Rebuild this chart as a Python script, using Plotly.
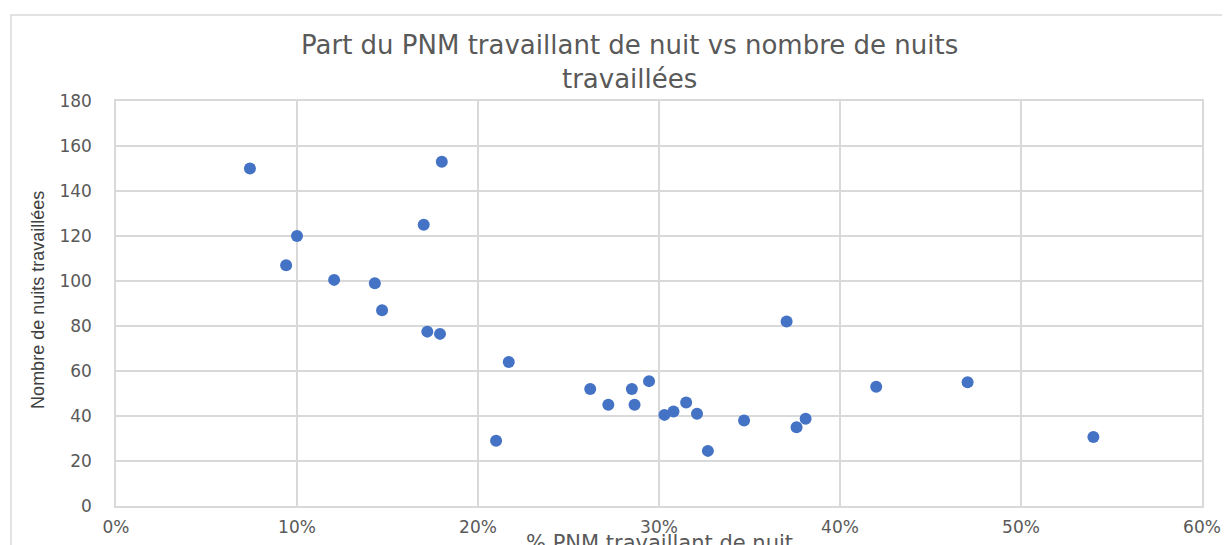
import plotly.graph_objects as go

# % PNM travaillant de nuit (fraction)
pct_pnm_nuit = [0.074, 0.180, 0.100, 0.094, 0.1205, 0.143, 0.147, 0.170, 0.172, 0.179,
                0.217, 0.210, 0.262, 0.272, 0.285, 0.2865, 0.2945, 0.303, 0.308, 0.315,
                0.321, 0.327, 0.347, 0.3705, 0.376, 0.381, 0.420, 0.4705, 0.540]
# Nombre de nuits travaillées
nb_nuits = [150, 153, 120, 107, 100.5, 99, 87, 125, 77.5, 76.5,
            64, 29, 52, 45, 52, 45, 55.5, 40.5, 42, 46,
            41, 24.5, 38, 82, 35, 38.8, 53, 55, 30.7]

title_text = "Part du PNM travaillant de nuit vs nombre de nuits<br>travaillées"
x_title = "% PNM travaillant de nuit"
y_title = "Nombre de nuits travaillées"

grey = "#595959"
grid = "#D9D9D9"

fig = go.Figure()
fig.add_trace(go.Scatter(
    x=pct_pnm_nuit, y=nb_nuits, mode="markers",
    marker=dict(color="#4472C4", size=12, line=dict(width=0)),
    showlegend=False,
))

fig.update_layout(
    width=1222, height=537,
    margin=dict(l=108, r=28, t=93, b=39, autoexpand=False),
    paper_bgcolor="white", plot_bgcolor="white",
    font=dict(family="DejaVu Sans", color=grey),
    xaxis=dict(range=[0, 0.6], dtick=0.1, tickformat=".0%", automargin=False,
               showgrid=True, gridcolor=grid, gridwidth=1.5,
               showline=True, linecolor=grid, linewidth=1.5, mirror=True,
               zeroline=False, ticks="", tickfont=dict(size=17, color=grey),
               ticklabelstandoff=5),
    yaxis=dict(range=[0, 180], dtick=20, automargin=False,
               showgrid=True, gridcolor=grid, gridwidth=1.5,
               showline=True, linecolor=grid, linewidth=1.5, mirror=True,
               zeroline=False, ticks="", tickfont=dict(size=17, color=grey),
               ticklabelstandoff=19),
    shapes=[dict(type="rect", xref="paper", yref="paper",
                 x0=-0.0967, x1=1.05, y0=-0.2, y1=1.2123,
                 line=dict(color="#D9D9D9", width=1.5), fillcolor="rgba(0,0,0,0)",
                 layer="below")],
    annotations=[
        dict(text=title_text, xref="paper", yref="paper", x=0.473, y=1.0975,
             xanchor="center", yanchor="middle", showarrow=False,
             font=dict(family="DejaVu Sans", size=26, color=grey)),
        dict(text=y_title, xref="paper", yref="paper", x=-0.0718, y=0.509,
             xanchor="center", yanchor="middle", textangle=-90, showarrow=False,
             font=dict(family="Liberation Sans Narrow, Liberation Sans", size=18, color="#404040")),
        dict(text=x_title, xref="paper", yref="paper", x=0.5, y=-0.0914,
             xanchor="center", yanchor="middle", showarrow=False,
             font=dict(family="DejaVu Sans", size=21, color=grey)),
    ],
)

fig.write_html("out.html")
